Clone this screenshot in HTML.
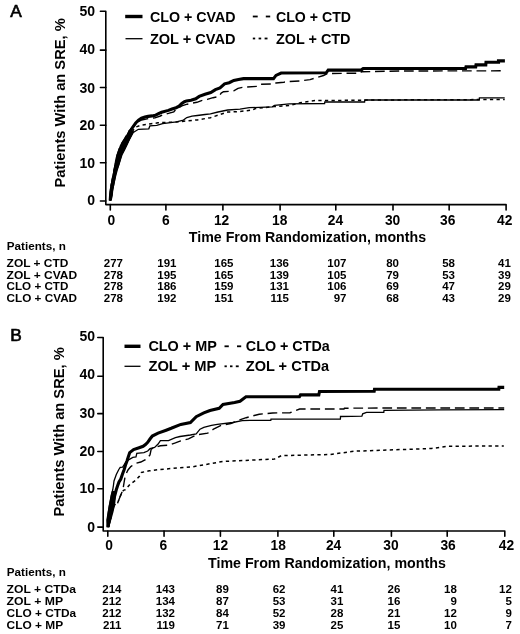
<!DOCTYPE html>
<html><head><meta charset="utf-8"><style>
html,body{margin:0;padding:0;background:#fff;}
svg{display:block;filter:grayscale(1) blur(0.3px);}
text{font-family:"Liberation Sans", sans-serif;fill:#000;}
</style></head><body>
<svg width="520" height="634" viewBox="0 0 520 634">
<rect width="520" height="634" fill="#fff"/>
<text x="10.2" y="17.4" font-size="17.3" stroke="#000" stroke-width="0.65">A</text>
<path d="M100.4,11.20 L105.8,11.20 L105.8,204.6 L506.10,204.6 L506.10,209.9" fill="none" stroke="#000" stroke-width="1.6" stroke-linejoin="round" stroke-linecap="round"/>
<line x1="100.4" y1="201.00" x2="105.8" y2="201.00" stroke="#000" stroke-width="1.6" stroke-linecap="round"/>
<line x1="100.4" y1="162.70" x2="105.8" y2="162.70" stroke="#000" stroke-width="1.6" stroke-linecap="round"/>
<line x1="100.4" y1="125.20" x2="105.8" y2="125.20" stroke="#000" stroke-width="1.6" stroke-linecap="round"/>
<line x1="100.4" y1="87.50" x2="105.8" y2="87.50" stroke="#000" stroke-width="1.6" stroke-linecap="round"/>
<line x1="100.4" y1="50.15" x2="105.8" y2="50.15" stroke="#000" stroke-width="1.6" stroke-linecap="round"/>
<text x="95" y="205.0" font-size="14" font-weight="bold" text-anchor="end">0</text>
<text x="95" y="168.0" font-size="14" font-weight="bold" text-anchor="end">10</text>
<text x="95" y="130.2" font-size="14" font-weight="bold" text-anchor="end">20</text>
<text x="95" y="92.5" font-size="14" font-weight="bold" text-anchor="end">30</text>
<text x="95" y="54.1" font-size="14" font-weight="bold" text-anchor="end">40</text>
<text x="95" y="15.9" font-size="14" font-weight="bold" text-anchor="end">50</text>
<line x1="110.30" y1="204.6" x2="110.30" y2="209.9" stroke="#000" stroke-width="1.6" stroke-linecap="round"/>
<line x1="165.90" y1="204.6" x2="165.90" y2="209.9" stroke="#000" stroke-width="1.6" stroke-linecap="round"/>
<line x1="222.90" y1="204.6" x2="222.90" y2="209.9" stroke="#000" stroke-width="1.6" stroke-linecap="round"/>
<line x1="280.10" y1="204.6" x2="280.10" y2="209.9" stroke="#000" stroke-width="1.6" stroke-linecap="round"/>
<line x1="335.80" y1="204.6" x2="335.80" y2="209.9" stroke="#000" stroke-width="1.6" stroke-linecap="round"/>
<line x1="393.00" y1="204.6" x2="393.00" y2="209.9" stroke="#000" stroke-width="1.6" stroke-linecap="round"/>
<line x1="449.15" y1="204.6" x2="449.15" y2="209.9" stroke="#000" stroke-width="1.6" stroke-linecap="round"/>
<text x="111.4" y="224.7" font-size="13.8" font-weight="bold" text-anchor="middle">0</text>
<text x="165.8" y="224.7" font-size="13.8" font-weight="bold" text-anchor="middle">6</text>
<text x="221.6" y="224.7" font-size="13.8" font-weight="bold" text-anchor="middle">12</text>
<text x="279.8" y="224.7" font-size="13.8" font-weight="bold" text-anchor="middle">18</text>
<text x="335.4" y="224.7" font-size="13.8" font-weight="bold" text-anchor="middle">24</text>
<text x="392.6" y="224.7" font-size="13.8" font-weight="bold" text-anchor="middle">30</text>
<text x="447.8" y="224.7" font-size="13.8" font-weight="bold" text-anchor="middle">36</text>
<text x="504.7" y="224.7" font-size="13.8" font-weight="bold" text-anchor="middle">42</text>
<text x="188.8" y="241.8" font-size="14.9" font-weight="bold" textLength="237.3" lengthAdjust="spacingAndGlyphs">Time From Randomization, months</text>
<text transform="translate(64.7,187.6) rotate(-90)" x="0" y="0" font-size="14.6" font-weight="bold" textLength="169.3" lengthAdjust="spacingAndGlyphs">Patients With an SRE, %</text>

<line x1="125.2" y1="16.5" x2="142.5" y2="16.5" stroke="#000" stroke-width="3.4"/>
<text x="149.9" y="22.3" font-size="14" font-weight="bold" textLength="85.6" lengthAdjust="spacingAndGlyphs">CLO + CVAD</text>
<line x1="125.5" y1="38.7" x2="142.5" y2="38.7" stroke="#000" stroke-width="1.3"/>
<text x="149.9" y="43.7" font-size="14" font-weight="bold" textLength="85.6" lengthAdjust="spacingAndGlyphs">ZOL + CVAD</text>
<line x1="252.8" y1="16.5" x2="257.7" y2="16.5" stroke="#000" stroke-width="1.8"/>
<line x1="265.8" y1="16.5" x2="270.2" y2="16.5" stroke="#000" stroke-width="1.8"/>
<text x="276" y="22.3" font-size="14" font-weight="bold" textLength="75" lengthAdjust="spacingAndGlyphs">CLO + CTD</text>
<line x1="252.8" y1="38.5" x2="255.2" y2="38.5" stroke="#000" stroke-width="1.8"/>
<line x1="258.6" y1="38.5" x2="261.2" y2="38.5" stroke="#000" stroke-width="1.8"/>
<line x1="264.6" y1="38.5" x2="267.5" y2="38.5" stroke="#000" stroke-width="1.8"/>
<text x="276" y="43.7" font-size="14" font-weight="bold" textLength="74.5" lengthAdjust="spacingAndGlyphs">ZOL + CTD</text>

<polygon points="109.4,200.8 109.5,195.0 109.8,190.0 110.5,185.0 111.6,180.0 112.5,175.0 113.4,170.0 114.3,165.0 115.1,160.0 116.3,155.0 118.2,150.0 120.0,145.0 123.2,140.0 126.4,135.0 128.8,130.0 134.0,131.0 132.4,135.0 129.9,140.0 127.6,145.0 125.2,150.0 122.6,155.0 121.0,160.0 119.4,165.0 117.3,170.0 116.2,175.0 115.2,180.0 114.3,185.0 113.3,190.0 112.8,196.0 111.6,200.8" fill="#000"/>
<polyline points="110.2,200.5 111.0,195.0 111.8,190.0 112.8,185.0 113.8,180.0 114.8,175.0 116.0,170.0 117.4,165.0 118.8,160.0 120.3,155.0 122.5,150.0 124.8,145.0 127.6,140.0 130.4,135.0 133.0,130.5 136.0,127.0 140.7,125.3 151.1,123.8 158.0,122.8 166.1,122.4 176.0,122.0 183.8,121.2 197.3,119.9 210.4,117.7 227.7,112.0 240.0,111.5 252.3,110.0 255.4,108.5 273.8,106.6 290.0,105.4 300.0,102.8 315.4,100.5 362.0,100.3 367.0,100.0 504.7,99.5" fill="none" stroke="#000" stroke-width="1.5" stroke-dasharray="3.3 3.3"/>
<polyline points="110.2,200.5 111.6,195.0 112.6,190.0 113.6,185.0 114.7,180.0 115.8,175.0 117.2,170.0 118.7,165.0 120.0,160.0 121.3,155.0 124.0,150.0 126.5,145.0 129.0,140.0 131.8,135.0 133.3,132.5 138.4,129.3 148.8,128.8 149.9,125.9 156.8,125.3 162.6,123.6 176.5,121.8 183.4,120.1 186.8,117.6 192.0,116.2 197.3,115.5 205.0,114.5 210.4,113.8 218.0,112.0 227.7,110.0 240.0,109.2 249.2,107.7 272.3,106.9 274.6,105.4 289.2,103.8 324.6,103.5 324.8,102.0 364.6,102.0 364.8,100.0 479.2,100.0 479.4,97.9 504.7,97.9" fill="none" stroke="#000" stroke-width="1.3"/>
<polyline points="110.2,200.5 110.2,195.0 110.6,190.0 111.3,185.0 112.1,180.0 113.0,175.0 114.0,170.0 115.2,165.0 116.2,160.0 117.3,155.0 118.8,150.0 120.6,145.0 123.8,140.0 126.6,135.0 129.3,131.0 132.0,127.5 134.8,124.5 137.5,122.2 141.5,120.0 149.5,118.3 155.0,117.9 160.3,116.0 163.4,114.5 168.4,113.4 173.8,111.8 176.5,109.0 179.0,107.5 181.9,105.8 187.2,104.2 190.0,103.6 196.9,102.3 201.5,100.6 207.3,99.4 213.0,97.7 218.8,96.5 221.2,93.1 223.5,91.7 229.2,91.3 233.8,90.8 238.0,88.3 243.5,87.2 257.0,86.4 261.0,84.2 274.4,84.0 276.0,83.0 283.8,82.2 289.2,81.5 300.0,80.9 310.0,79.6 316.7,77.6 323.5,75.5 327.5,73.5 359.8,73.2 361.5,71.8 400.0,71.0 504.9,70.8" fill="none" stroke="#000" stroke-width="1.4" stroke-dasharray="9.7 4.8"/>
<polyline points="110.2,200.5 110.6,195.0 111.2,190.0 112.1,185.0 113.1,180.0 114.1,175.0 115.2,170.0 116.5,165.0 117.8,160.0 119.1,155.0 121.2,150.0 123.2,145.0 126.0,140.0 128.2,135.0 130.6,130.5 133.2,126.5 135.7,123.0 138.5,120.3 141.5,118.2 144.9,117.0 148.2,116.4 152.0,115.9 155.3,115.3 158.0,113.8 161.6,112.3 168.4,110.4 172.0,109.0 176.1,107.7 179.1,106.2 181.8,103.5 184.5,101.7 186.5,100.9 191.0,100.2 195.7,98.8 199.2,96.4 205.0,94.2 210.8,92.5 215.4,89.6 220.0,87.9 224.6,83.8 229.2,82.7 233.8,80.4 238.5,79.4 243.5,78.6 273.5,78.6 276.0,75.4 281.1,73.0 326.2,72.8 328.2,70.1 361.1,70.1 363.2,68.5 465.6,68.5 466.0,66.9 475.7,66.9 476.0,64.9 485.8,64.9 486.0,62.2 498.5,62.2 498.5,60.9 504.9,60.9" fill="none" stroke="#000" stroke-width="3.1" stroke-linejoin="miter"/>
<text x="6.8" y="250" font-size="11.2" font-weight="bold" textLength="59" lengthAdjust="spacingAndGlyphs">Patients, n</text>
<text x="6.6" y="267" font-size="11" font-weight="bold" textLength="61.8" lengthAdjust="spacingAndGlyphs">ZOL + CTD</text>
<text x="123" y="267" font-size="11.5" font-weight="bold" text-anchor="end">277</text>
<text x="176.5" y="267" font-size="11.5" font-weight="bold" text-anchor="end">191</text>
<text x="233.5" y="267" font-size="11.5" font-weight="bold" text-anchor="end">165</text>
<text x="289" y="267" font-size="11.5" font-weight="bold" text-anchor="end">136</text>
<text x="346.5" y="267" font-size="11.5" font-weight="bold" text-anchor="end">107</text>
<text x="399" y="267" font-size="11.5" font-weight="bold" text-anchor="end">80</text>
<text x="455" y="267" font-size="11.5" font-weight="bold" text-anchor="end">58</text>
<text x="510.8" y="267" font-size="11.5" font-weight="bold" text-anchor="end">41</text>
<text x="6.6" y="278.8" font-size="11" font-weight="bold" textLength="70.5" lengthAdjust="spacingAndGlyphs">ZOL + CVAD</text>
<text x="123" y="278.8" font-size="11.5" font-weight="bold" text-anchor="end">278</text>
<text x="176.5" y="278.8" font-size="11.5" font-weight="bold" text-anchor="end">195</text>
<text x="233.5" y="278.8" font-size="11.5" font-weight="bold" text-anchor="end">165</text>
<text x="289" y="278.8" font-size="11.5" font-weight="bold" text-anchor="end">139</text>
<text x="346.5" y="278.8" font-size="11.5" font-weight="bold" text-anchor="end">105</text>
<text x="399" y="278.8" font-size="11.5" font-weight="bold" text-anchor="end">79</text>
<text x="455" y="278.8" font-size="11.5" font-weight="bold" text-anchor="end">53</text>
<text x="510.8" y="278.8" font-size="11.5" font-weight="bold" text-anchor="end">39</text>
<text x="6.6" y="290.4" font-size="11" font-weight="bold" textLength="61.8" lengthAdjust="spacingAndGlyphs">CLO + CTD</text>
<text x="123" y="290.4" font-size="11.5" font-weight="bold" text-anchor="end">278</text>
<text x="176.5" y="290.4" font-size="11.5" font-weight="bold" text-anchor="end">186</text>
<text x="233.5" y="290.4" font-size="11.5" font-weight="bold" text-anchor="end">159</text>
<text x="289" y="290.4" font-size="11.5" font-weight="bold" text-anchor="end">131</text>
<text x="346.5" y="290.4" font-size="11.5" font-weight="bold" text-anchor="end">106</text>
<text x="399" y="290.4" font-size="11.5" font-weight="bold" text-anchor="end">69</text>
<text x="455" y="290.4" font-size="11.5" font-weight="bold" text-anchor="end">47</text>
<text x="510.8" y="290.4" font-size="11.5" font-weight="bold" text-anchor="end">29</text>
<text x="6.6" y="302" font-size="11" font-weight="bold" textLength="70.5" lengthAdjust="spacingAndGlyphs">CLO + CVAD</text>
<text x="123" y="302" font-size="11.5" font-weight="bold" text-anchor="end">278</text>
<text x="176.5" y="302" font-size="11.5" font-weight="bold" text-anchor="end">192</text>
<text x="233.5" y="302" font-size="11.5" font-weight="bold" text-anchor="end">151</text>
<text x="289" y="302" font-size="11.5" font-weight="bold" text-anchor="end">115</text>
<text x="346.5" y="302" font-size="11.5" font-weight="bold" text-anchor="end">97</text>
<text x="399" y="302" font-size="11.5" font-weight="bold" text-anchor="end">68</text>
<text x="455" y="302" font-size="11.5" font-weight="bold" text-anchor="end">43</text>
<text x="510.8" y="302" font-size="11.5" font-weight="bold" text-anchor="end">29</text>
<text x="10.2" y="340.9" font-size="17.3" stroke="#000" stroke-width="0.65">B</text>
<path d="M97.8,337.50 L103.2,337.50 L103.2,531 L504.80,531 L504.80,536.3" fill="none" stroke="#000" stroke-width="1.6" stroke-linejoin="round" stroke-linecap="round"/>
<line x1="97.8" y1="527.10" x2="103.2" y2="527.10" stroke="#000" stroke-width="1.6" stroke-linecap="round"/>
<line x1="97.8" y1="488.70" x2="103.2" y2="488.70" stroke="#000" stroke-width="1.6" stroke-linecap="round"/>
<line x1="97.8" y1="451.50" x2="103.2" y2="451.50" stroke="#000" stroke-width="1.6" stroke-linecap="round"/>
<line x1="97.8" y1="413.65" x2="103.2" y2="413.65" stroke="#000" stroke-width="1.6" stroke-linecap="round"/>
<line x1="97.8" y1="376.20" x2="103.2" y2="376.20" stroke="#000" stroke-width="1.6" stroke-linecap="round"/>
<text x="95" y="531.8" font-size="14" font-weight="bold" text-anchor="end">0</text>
<text x="95" y="493.4" font-size="14" font-weight="bold" text-anchor="end">10</text>
<text x="95" y="456.2" font-size="14" font-weight="bold" text-anchor="end">20</text>
<text x="95" y="417.9" font-size="14" font-weight="bold" text-anchor="end">30</text>
<text x="95" y="378.9" font-size="14" font-weight="bold" text-anchor="end">40</text>
<text x="95" y="341.1" font-size="14" font-weight="bold" text-anchor="end">50</text>
<line x1="107.80" y1="531" x2="107.80" y2="536.3" stroke="#000" stroke-width="1.6" stroke-linecap="round"/>
<line x1="164.05" y1="531" x2="164.05" y2="536.3" stroke="#000" stroke-width="1.6" stroke-linecap="round"/>
<line x1="220.40" y1="531" x2="220.40" y2="536.3" stroke="#000" stroke-width="1.6" stroke-linecap="round"/>
<line x1="277.90" y1="531" x2="277.90" y2="536.3" stroke="#000" stroke-width="1.6" stroke-linecap="round"/>
<line x1="333.80" y1="531" x2="333.80" y2="536.3" stroke="#000" stroke-width="1.6" stroke-linecap="round"/>
<line x1="391.40" y1="531" x2="391.40" y2="536.3" stroke="#000" stroke-width="1.6" stroke-linecap="round"/>
<line x1="447.20" y1="531" x2="447.20" y2="536.3" stroke="#000" stroke-width="1.6" stroke-linecap="round"/>
<text x="109.0" y="550.3" font-size="13.8" font-weight="bold" text-anchor="middle">0</text>
<text x="163.4" y="550.3" font-size="13.8" font-weight="bold" text-anchor="middle">6</text>
<text x="220.5" y="550.3" font-size="13.8" font-weight="bold" text-anchor="middle">12</text>
<text x="278.3" y="550.3" font-size="13.8" font-weight="bold" text-anchor="middle">18</text>
<text x="333.6" y="550.3" font-size="13.8" font-weight="bold" text-anchor="middle">24</text>
<text x="390.9" y="550.3" font-size="13.8" font-weight="bold" text-anchor="middle">30</text>
<text x="448.1" y="550.3" font-size="13.8" font-weight="bold" text-anchor="middle">36</text>
<text x="506.4" y="550.3" font-size="13.8" font-weight="bold" text-anchor="middle">42</text>
<text x="208" y="568" font-size="14.9" font-weight="bold" textLength="237.8" lengthAdjust="spacingAndGlyphs">Time From Randomization, months</text>
<text transform="translate(63.6,516.6) rotate(-90)" x="0" y="0" font-size="14.6" font-weight="bold" textLength="169.3" lengthAdjust="spacingAndGlyphs">Patients With an SRE, %</text>

<line x1="124.5" y1="346.3" x2="140.5" y2="346.3" stroke="#000" stroke-width="3.4"/>
<text x="148.4" y="350.6" font-size="14" font-weight="bold" textLength="68.5" lengthAdjust="spacingAndGlyphs">CLO + MP</text>
<line x1="124.5" y1="366.3" x2="140.5" y2="366.3" stroke="#000" stroke-width="1.3"/>
<text x="148.4" y="370.6" font-size="14" font-weight="bold" textLength="68" lengthAdjust="spacingAndGlyphs">ZOL + MP</text>
<line x1="224.5" y1="346.3" x2="228.8" y2="346.3" stroke="#000" stroke-width="1.8"/>
<line x1="237" y1="346.3" x2="241.2" y2="346.3" stroke="#000" stroke-width="1.8"/>
<text x="245.8" y="350.6" font-size="14" font-weight="bold" textLength="84" lengthAdjust="spacingAndGlyphs">CLO + CTDa</text>
<line x1="224.5" y1="366.3" x2="226.8" y2="366.3" stroke="#000" stroke-width="1.8"/>
<line x1="230" y1="366.3" x2="232.5" y2="366.3" stroke="#000" stroke-width="1.8"/>
<line x1="235.8" y1="366.3" x2="238.7" y2="366.3" stroke="#000" stroke-width="1.8"/>
<text x="245.8" y="370.6" font-size="14" font-weight="bold" textLength="83.3" lengthAdjust="spacingAndGlyphs">ZOL + CTDa</text>

<polygon points="106.6,527.5 106.3,520.0 107.6,512.0 108.8,505.0 109.8,500.0 110.7,495.0 111.8,491.0 116.6,491.0 116.0,495.0 115.6,500.0 115.1,505.0 113.5,512.0 111.3,520.0 109.0,527.5" fill="#000"/>
<polyline points="108.5,527.0 110.2,520.0 112.0,512.0 113.8,506.0 115.6,504.0 117.6,503.0 119.0,499.5 120.6,495.5 122.0,492.0 123.5,490.3 125.4,489.7 130.0,484.3 135.4,480.5 139.2,476.6 141.5,472.4 145.4,471.6 149.2,470.8 157.7,469.8 176.9,467.9 191.5,467.0 222.7,461.5 274.6,459.0 281.5,455.6 330.0,454.5 354.6,451.2 431.5,448.5 448.8,446.2 503.8,446.0" fill="none" stroke="#000" stroke-width="1.5" stroke-dasharray="3.3 3.3"/>
<polyline points="107.5,527.0 107.4,520.0 108.4,512.0 109.5,505.0 110.5,500.0 111.5,495.0 112.7,490.0 113.5,485.0 114.0,481.0 116.3,474.5 118.8,469.5 120.2,467.3 122.6,467.2 126.0,462.0 129.0,459.6 132.8,457.4 136.0,457.0 136.8,453.4 143.9,452.6 147.7,451.0 150.0,448.7 154.6,447.5 158.1,444.0 160.4,440.6 168.5,440.6 175.4,437.7 180.0,436.5 190.4,435.0 196.2,434.0 200.0,429.2 203.8,427.3 211.5,425.4 217.3,424.4 232.7,422.5 242.3,420.6 250.0,420.4 270.8,420.4 271.0,419.2 340.4,419.0 340.5,416.5 361.9,416.2 362.7,413.8 366.5,412.3 383.8,412.3 384.0,410.4 440.0,409.8 504.2,409.7" fill="none" stroke="#000" stroke-width="1.3"/>
<polyline points="108.5,527.0 110.2,520.0 112.0,512.0 113.8,506.0 115.6,504.0 117.6,503.0 119.0,499.5 120.6,495.5 122.0,492.0 123.2,488.0 124.0,483.0 125.0,477.0 126.5,473.0 128.0,470.0 130.8,466.6 135.4,463.5 140.8,462.0 145.4,459.6 150.0,455.0 151.2,449.2 154.6,447.5 160.4,445.8 168.5,445.2 175.4,442.9 180.0,441.2 188.5,438.8 196.2,435.0 207.7,433.1 213.5,429.2 221.2,425.4 230.8,423.5 240.4,419.6 246.2,417.7 250.0,416.7 259.2,414.2 272.7,413.0 290.0,412.7 299.6,409.0 344.0,409.0 344.4,408.2 385.8,408.0 504.2,408.0" fill="none" stroke="#000" stroke-width="1.4" stroke-dasharray="9.7 4.8"/>
<polyline points="108.0,527.0 109.3,520.0 110.8,512.0 112.4,505.0 113.6,500.0 114.9,495.0 116.2,490.0 117.5,486.0 119.0,482.0 120.8,479.0 122.5,474.0 124.2,469.5 125.5,465.0 127.0,461.0 128.1,457.4 129.7,452.6 133.6,449.6 139.1,447.7 143.1,446.3 145.5,444.5 147.7,442.3 150.0,439.0 152.3,436.0 158.1,433.1 166.2,430.2 171.2,428.3 180.8,424.4 190.4,422.5 196.2,416.7 203.8,412.9 210.0,410.5 219.2,408.3 223.0,404.4 234.6,402.5 240.0,401.2 244.0,398.2 246.0,396.8 299.4,396.8 300.5,394.9 318.8,394.9 319.5,391.5 374.2,391.2 374.5,389.3 498.8,389.3 499.0,387.4 504.2,387.4" fill="none" stroke="#000" stroke-width="3.1" stroke-linejoin="miter"/>
<text x="6.8" y="575.8" font-size="11.2" font-weight="bold" textLength="59" lengthAdjust="spacingAndGlyphs">Patients, n</text>
<text x="6.6" y="593.4" font-size="11" font-weight="bold" textLength="69.5" lengthAdjust="spacingAndGlyphs">ZOL + CTDa</text>
<text x="121.5" y="593.4" font-size="11.5" font-weight="bold" text-anchor="end">214</text>
<text x="175" y="593.4" font-size="11.5" font-weight="bold" text-anchor="end">143</text>
<text x="228.8" y="593.4" font-size="11.5" font-weight="bold" text-anchor="end">89</text>
<text x="285.5" y="593.4" font-size="11.5" font-weight="bold" text-anchor="end">62</text>
<text x="343.3" y="593.4" font-size="11.5" font-weight="bold" text-anchor="end">41</text>
<text x="400.3" y="593.4" font-size="11.5" font-weight="bold" text-anchor="end">26</text>
<text x="456.8" y="593.4" font-size="11.5" font-weight="bold" text-anchor="end">18</text>
<text x="511.8" y="593.4" font-size="11.5" font-weight="bold" text-anchor="end">12</text>
<text x="6.6" y="605.2" font-size="11" font-weight="bold" textLength="56.5" lengthAdjust="spacingAndGlyphs">ZOL + MP</text>
<text x="121.5" y="605.2" font-size="11.5" font-weight="bold" text-anchor="end">212</text>
<text x="175" y="605.2" font-size="11.5" font-weight="bold" text-anchor="end">134</text>
<text x="228.8" y="605.2" font-size="11.5" font-weight="bold" text-anchor="end">87</text>
<text x="285.5" y="605.2" font-size="11.5" font-weight="bold" text-anchor="end">53</text>
<text x="343.3" y="605.2" font-size="11.5" font-weight="bold" text-anchor="end">31</text>
<text x="400.3" y="605.2" font-size="11.5" font-weight="bold" text-anchor="end">16</text>
<text x="456.8" y="605.2" font-size="11.5" font-weight="bold" text-anchor="end">9</text>
<text x="511.8" y="605.2" font-size="11.5" font-weight="bold" text-anchor="end">5</text>
<text x="6.6" y="617" font-size="11" font-weight="bold" textLength="69.5" lengthAdjust="spacingAndGlyphs">CLO + CTDa</text>
<text x="121.5" y="617" font-size="11.5" font-weight="bold" text-anchor="end">212</text>
<text x="175" y="617" font-size="11.5" font-weight="bold" text-anchor="end">132</text>
<text x="228.8" y="617" font-size="11.5" font-weight="bold" text-anchor="end">84</text>
<text x="285.5" y="617" font-size="11.5" font-weight="bold" text-anchor="end">52</text>
<text x="343.3" y="617" font-size="11.5" font-weight="bold" text-anchor="end">28</text>
<text x="400.3" y="617" font-size="11.5" font-weight="bold" text-anchor="end">21</text>
<text x="456.8" y="617" font-size="11.5" font-weight="bold" text-anchor="end">12</text>
<text x="511.8" y="617" font-size="11.5" font-weight="bold" text-anchor="end">9</text>
<text x="6.6" y="628.8" font-size="11" font-weight="bold" textLength="56.5" lengthAdjust="spacingAndGlyphs">CLO + MP</text>
<text x="121.5" y="628.8" font-size="11.5" font-weight="bold" text-anchor="end">211</text>
<text x="175" y="628.8" font-size="11.5" font-weight="bold" text-anchor="end">119</text>
<text x="228.8" y="628.8" font-size="11.5" font-weight="bold" text-anchor="end">71</text>
<text x="285.5" y="628.8" font-size="11.5" font-weight="bold" text-anchor="end">39</text>
<text x="343.3" y="628.8" font-size="11.5" font-weight="bold" text-anchor="end">25</text>
<text x="400.3" y="628.8" font-size="11.5" font-weight="bold" text-anchor="end">15</text>
<text x="456.8" y="628.8" font-size="11.5" font-weight="bold" text-anchor="end">10</text>
<text x="511.8" y="628.8" font-size="11.5" font-weight="bold" text-anchor="end">7</text>
</svg>
</body></html>
